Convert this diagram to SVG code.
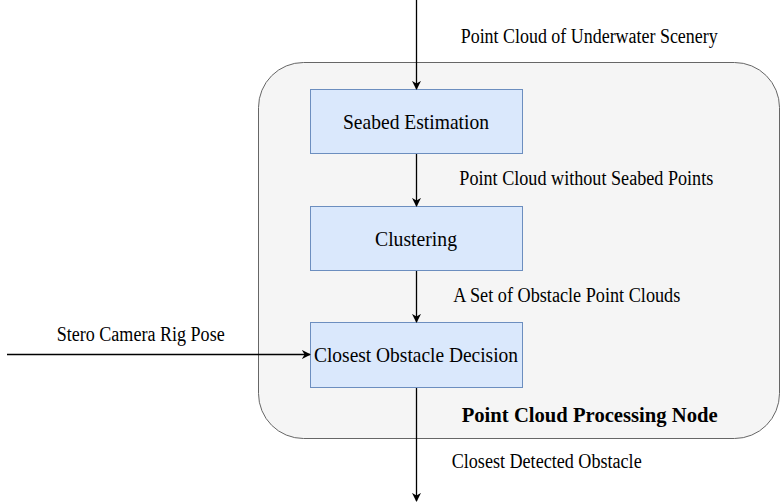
<svg xmlns="http://www.w3.org/2000/svg" width="782" height="502" viewBox="0 0 782 502">
<defs>
<style>
.lbl{font-family:"Liberation Serif","Times New Roman",serif;font-size:20px;fill:#000}
.ntx{font-family:"Liberation Serif","Times New Roman",serif;font-size:21px;fill:#000}
.ttl{font-family:"Liberation Serif","Times New Roman",serif;font-size:22px;font-weight:bold;fill:#000}
.box{fill:#dae8fc;stroke:#6c8ebf;stroke-width:1}
.edge{stroke:#000;stroke-width:1.3;fill:none;marker-end:url(#ah)}
</style>
<marker id="ah" viewBox="0 0 10 10" refX="9" refY="5" markerWidth="9" markerHeight="9" markerUnits="userSpaceOnUse" orient="auto">
<path d="M0,0 L10,5 L0,10 L3,5 Z" fill="#000"/>
</marker>
</defs>
<rect width="782" height="502" fill="#fff"/>
<g id="container">
<rect x="258.5" y="62.5" width="521" height="376" rx="45" ry="45" fill="#f5f5f5" stroke="#666" stroke-width="1"/>
<text x="461.7" y="422" class="ttl" textLength="256" lengthAdjust="spacingAndGlyphs">Point Cloud Processing Node</text>
</g>
<g id="seabed">
<rect class="box" x="310.5" y="89.5" width="212" height="64"/>
<text x="343" y="129" class="ntx" textLength="146" lengthAdjust="spacingAndGlyphs">Seabed Estimation</text>
</g>
<g id="clustering">
<rect class="box" x="310.5" y="206.5" width="212" height="64"/>
<text x="375" y="246" class="ntx" textLength="82" lengthAdjust="spacingAndGlyphs">Clustering</text>
</g>
<g id="closest">
<rect class="box" x="310.5" y="322.5" width="212" height="65"/>
<text x="314" y="362" class="ntx" textLength="204" lengthAdjust="spacingAndGlyphs">Closest Obstacle Decision</text>
</g>
<g id="connectors">
<path class="edge" d="M416.5,0 V89"/>
<path class="edge" d="M416.5,154 V206"/>
<path class="edge" d="M416.5,271 V322"/>
<path class="edge" d="M7,354.5 H310"/>
<path class="edge" d="M416.5,388 V501"/>
</g>
<g id="labels">
<text class="lbl" x="460.7" y="42.7" textLength="257" lengthAdjust="spacingAndGlyphs">Point Cloud of Underwater Scenery</text>
<text class="lbl" x="459.3" y="185" textLength="254" lengthAdjust="spacingAndGlyphs">Point Cloud without Seabed Points</text>
<text class="lbl" x="453.3" y="301.7" textLength="227" lengthAdjust="spacingAndGlyphs">A Set of Obstacle Point Clouds</text>
<text class="lbl" x="56.7" y="340.7" textLength="168" lengthAdjust="spacingAndGlyphs">Stero Camera Rig Pose</text>
<text class="lbl" x="451.7" y="468" textLength="190" lengthAdjust="spacingAndGlyphs">Closest Detected Obstacle</text>
</g>
</svg>
